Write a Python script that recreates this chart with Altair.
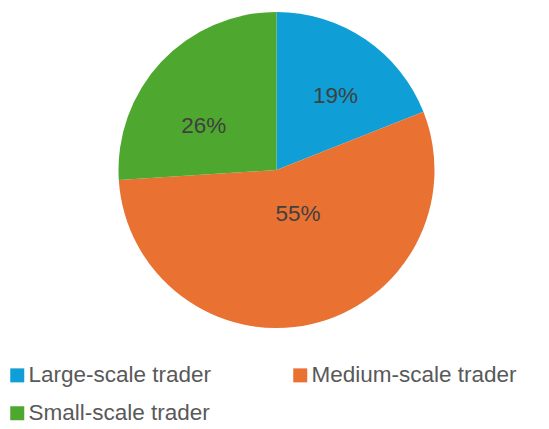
import altair as alt
import pandas as pd

categories = ["Large-scale trader", "Medium-scale trader", "Small-scale trader"]
shares = [19, 55, 26]
labels = ["19%", "55%", "26%"]
colors = ["#0F9ED5", "#E97132", "#4EA72E"]
order = [1, 2, 3]

df = pd.DataFrame({"category": categories, "share": shares, "label": labels, "order": order})

FONT = "Liberation Sans"

base = alt.Chart(df).transform_window(
    cum="sum(share)", sort=[alt.SortField("order")], frame=[None, 0]
).transform_calculate(mid="datum.cum - datum.share / 2")

arcs = base.mark_arc(radius=158, strokeWidth=0).encode(
    theta=alt.Theta("share:Q", stack=True),
    order=alt.Order("order:Q"),
    color=alt.Color(
        "category:N",
        scale=alt.Scale(domain=categories, range=colors),
        legend=alt.Legend(
            title=None,
            orient="none",
            legendX=-6,
            legendY=356,
            direction="horizontal",
            columns=2,
            columnPadding=77,
            rowPadding=15,
            symbolType="square",
            symbolSize=196,
            symbolStrokeWidth=0,
            symbolOpacity=1,
            labelFont=FONT,
            labelFontSize=22.5,
            labelColor="#595959",
            labelOffset=0,
            labelLimit=400,
        ),
    ),
)

def label_layer(cat, r, dx, dy):
    return base.transform_filter(alt.datum.category == cat).mark_text(
        radius=r, dx=dx, dy=dy, fontSize=22.5, font=FONT, color="#404040"
    ).encode(
        theta=alt.Theta("mid:Q", scale=alt.Scale(domain=[0, 100])),
        text="label:N",
    )

chart = alt.layer(
    arcs,
    label_layer(categories[0], 96, 5, 5),
    label_layer(categories[1], 48, 11, -3),
    label_layer(categories[2], 86, -10, 15),
).resolve_scale(theta="independent").properties(
    width=529,
    height=324,
    autosize=alt.AutoSizeParams(type="none"),
    padding={"left": 4, "top": 0, "right": 0, "bottom": 92},
).configure_view(stroke=None)

chart.save("out.html", embed_options={"renderer": "svg", "actions": False})
